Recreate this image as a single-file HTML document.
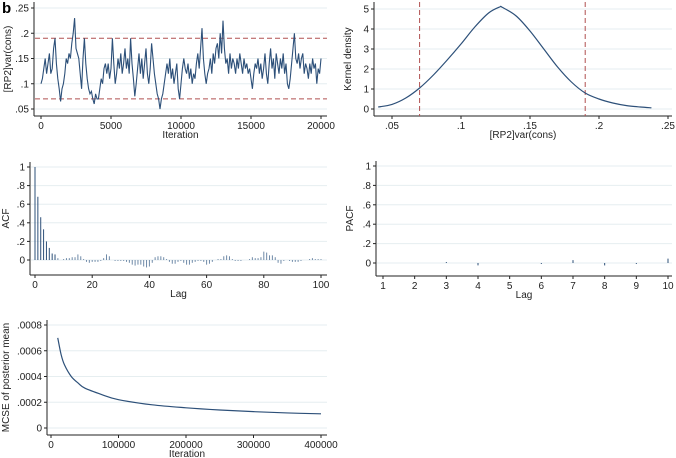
<!DOCTYPE html>
<html><head><meta charset="utf-8"><style>
body{margin:0;background:#fff;}
svg{display:block;font-family:"Liberation Sans",Arial,sans-serif;}
</style></head><body>
<svg id="c" width="676" height="458" viewBox="0 0 676 458" xmlns="http://www.w3.org/2000/svg">
<text x="2" y="13" font-size="15" font-weight="bold">b</text>
</svg>
<script>
const traceVals=[.10,.11,.13,.15,.12,.14,.16,.12,.13,.17,
.19,.14,.11,.09,.065,.09,.10,.12,.15,.14,
.16,.15,.18,.20,.23,.17,.16,.15,.12,.09,
.15,.19,.14,.11,.09,.08,.085,.07,.06,.08,
.07,.07,.09,.11,.10,.13,.14,.12,.14,.11,
.13,.19,.14,.10,.12,.15,.13,.16,.12,.14,
.17,.13,.15,.12,.19,.14,.11,.075,.10,.13,
.16,.12,.15,.11,.14,.17,.12,.10,.13,.18,
.15,.12,.10,.08,.07,.05,.07,.08,.10,.12,
.14,.12,.15,.11,.13,.10,.12,.14,.09,.07,
.10,.13,.15,.13,.12,.14,.11,.13,.10,.12,
.11,.14,.16,.13,.17,.21,.15,.12,.10,.12,
.13,.15,.12,.16,.14,.17,.18,.15,.20,.16,
.225,.17,.14,.15,.12,.16,.13,.15,.14,.12,
.15,.13,.16,.14,.12,.15,.13,.14,.12,.13,
.11,.09,.12,.14,.13,.15,.12,.14,.11,.13,
.16,.12,.10,.14,.17,.13,.15,.11,.16,.14,
.12,.15,.13,.16,.12,.14,.10,.09,.11,.14,
.17,.20,.15,.14,.16,.13,.15,.16,.12,.14,
.13,.11,.14,.12,.15,.13,.14,.10,.13,.12,.15];
const traceStep=100;
const traceBounds=[.07,.19];
const kdX=[.04,.05,.06,.07,.08,.09,.10,.11,.12,.128,.13,.14,.15,.16,.17,.18,.19,.20,.21,.22,.23,.238];
const kdY=[.1,.23,.55,1.05,1.7,2.45,3.25,4.1,4.8,5.1,5.08,4.65,3.9,3.0,2.1,1.35,.8,.5,.3,.17,.1,.06];
const acfVals=[1,.68,.46,.33,.2,.13,.07,.06,.02,0,.01,.02,.02,.03,.03,.06,.04,.01,-.02,-.03,
-.02,-.02,-.02,-.01,.02,.06,.04,0,-.01,-.01,-.01,-.01,-.02,-.03,-.05,-.06,-.05,-.05,-.07,-.08,
-.07,-.03,.03,.04,.04,.03,.01,-.02,-.04,-.04,-.02,-.01,-.03,-.05,-.05,-.03,-.02,-.01,-.01,-.02,
-.05,-.04,-.02,0,.01,.01,.04,.05,.04,.01,-.01,-.01,-.01,0,0,.01,.03,.02,.02,.03,
.09,.08,.05,.05,.03,-.03,-.04,-.01,0,-.01,-.02,-.02,-.02,-.01,0,0,.01,.02,.01,.01,.01];
const pacfLags=[1,2,3,4,5,6,7,8,9,10];
const pacfVals=[0,0,.01,-.025,0,-.01,.03,-.025,-.01,.045];
const mcseIter=[10000,15000,20000,30000,40000,50000,75000,100000,150000,200000,250000,300000,350000,400000];
const mcseVals=[.0007,.00057,.00049,.0004,.00035,.00031,.00026,.00022,.00018,.000157,.00014,.000127,.000117,.00011];

const NS="http://www.w3.org/2000/svg";
const svg=document.getElementById('c');
function mk(tag,attrs,parent){const e=document.createElementNS(NS,tag);for(const k in attrs)e.setAttribute(k,attrs[k]);(parent||svg).appendChild(e);return e;}
function smoothPath(pts){
  let d='M'+pts[0][0]+','+pts[0][1];
  for(let i=0;i<pts.length-1;i++){
    const p0=pts[Math.max(i-1,0)],p1=pts[i],p2=pts[i+1],p3=pts[Math.min(i+2,pts.length-1)];
    const c1=[p1[0]+(p2[0]-p0[0])/6,p1[1]+(p2[1]-p0[1])/6];
    const c2=[p2[0]-(p3[0]-p1[0])/6,p2[1]-(p3[1]-p1[1])/6];
    d+=` C${c1[0]},${c1[1]} ${c2[0]},${c2[1]} ${p2[0]},${p2[1]}`;
  }
  return d;
}
const LINE="#2d5079", GRID="#e6eef0", AX="#222";
function panel(name,o){
  const g=mk('g',{});
  
  
  const sx=v=>o.x0+(v-o.xa)/(o.xb-o.xa)*(o.x1-o.x0);
  const sy=v=>o.y0+(v-o.ya)/(o.yb-o.ya)*(o.y1-o.y0);
  o.yt.forEach((t,i)=>{
    const y=sy(t);
    const gl=mk('line',{x1:o.ax+1,x2:o.right,y1:y,y2:y,stroke:GRID,'stroke-width':1},g);
    
    
    mk('line',{x1:o.ax-3,x2:o.ax,y1:y,y2:y,stroke:AX},g);
    const tx=mk('text',{x:o.ax-5,y:y+3.5,'font-size':10,'text-anchor':'end',fill:'#222'},g);
    tx.textContent=o.ytl[i];
    
    
  });
  o.xt.forEach((t,i)=>{
    const x=sx(t);
    mk('line',{x1:x,x2:x,y1:o.axy,y2:o.axy+3,stroke:AX},g);
    const tx=mk('text',{x:x,y:o.axy+13,'font-size':10,'text-anchor':'middle',fill:'#222'},g);
    tx.textContent=o.xtl[i];
    
    
  });
  const a1=mk('line',{x1:o.ax,x2:o.ax,y1:o.top,y2:o.axy,stroke:AX},g);
  
  
  const a2=mk('line',{x1:o.ax,x2:o.right,y1:o.axy,y2:o.axy,stroke:AX},g);
  
  
  const xl=mk('text',{x:(o.ax+o.right)/2,y:o.axy+22,'font-size':10,'text-anchor':'middle',fill:'#222'},g);
  xl.textContent=o.xlab;
  
  
  const cy=(o.top+o.axy)/2;
  const yl=mk('text',{x:o.ylx,y:cy,'font-size':10,'text-anchor':'middle',fill:'#222',transform:`rotate(-90 ${o.ylx} ${cy})`},g);
  yl.textContent=o.ylab;
  
  
  return {g,sx,sy};
}
// Trace
{const p=panel('trace-plot',{x0:41,x1:321,xa:0,xb:20000,y0:109,y1:8,ya:.05,yb:.25,ax:34,axy:116,top:2,right:327,
 yt:[.05,.1,.15,.2,.25],ytl:['.05','.1','.15','.2','.25'],xt:[0,5000,10000,15000,20000],xtl:['0','5000','10000','15000','20000'],xlab:'Iteration',ylab:'[RP2]var(cons)',ylx:11});
 traceBounds.forEach(b=>{const l=mk('line',{x1:35,x2:327,y1:p.sy(b),y2:p.sy(b),stroke:'#b05050','stroke-dasharray':'5,3'},p.g);
  });
 const pl=mk('polyline',{points:traceVals.map((v,i)=>p.sx(i*traceStep)+','+p.sy(v)).join(' '),fill:'none',stroke:LINE,'stroke-width':1.1},p.g);
 }
// Kernel density
{const p=panel('kernel-density-plot',{x0:392,x1:668,xa:.05,xb:.25,y0:109,y1:9,ya:0,yb:5,ax:374,axy:116,top:2,right:672,
 yt:[0,1,2,3,4,5],ytl:['0','1','2','3','4','5'],xt:[.05,.1,.15,.2,.25],xtl:['.05','.1','.15','.2','.25'],xlab:'[RP2]var(cons)',ylab:'Kernel density',ylx:351});
 traceBounds.forEach(b=>{const l=mk('line',{x1:p.sx(b),x2:p.sx(b),y1:2,y2:116,stroke:'#b05050','stroke-dasharray':'5,3'},p.g);
  });
 const pl=mk('path',{d:smoothPath(kdX.map((v,i)=>[p.sx(v),p.sy(kdY[i])])),fill:'none',stroke:LINE,'stroke-width':1.2},p.g);
 }
// ACF
{const p=panel('acf-plot',{x0:35,x1:321,xa:0,xb:100,y0:260,y1:167,ya:0,yb:1,ax:30,axy:275,top:162,right:327,
 yt:[0,.2,.4,.6,.8,1],ytl:['0','.2','.4','.6','.8','1'],xt:[0,20,40,60,80,100],xtl:['0','20','40','60','80','100'],xlab:'Lag',ylab:'ACF',ylx:9});
 acfVals.forEach((v,i)=>{const l=mk('line',{x1:p.sx(i),x2:p.sx(i),y1:p.sy(0),y2:p.sy(v),stroke:i<8?LINE:'#6f8aa8','stroke-width':1},p.g);
  });}
// PACF
{const p=panel('pacf-plot',{x0:383,x1:668,xa:1,xb:10,y0:263,y1:166,ya:0,yb:1,ax:376,axy:276,top:161,right:672,
 yt:[0,.2,.4,.6,.8,1],ytl:['0','.2','.4','.6','.8','1'],xt:pacfLags,xtl:pacfLags.map(String),xlab:'Lag',ylab:'PACF',ylx:353});
 pacfLags.forEach((lg,i)=>{const l=mk('line',{x1:p.sx(lg),x2:p.sx(lg),y1:p.sy(0),y2:p.sy(pacfVals[i]),stroke:LINE,'stroke-width':1},p.g);
  });}
// MCSE
{const p=panel('mcse-plot',{x0:51,x1:321,xa:0,xb:400000,y0:428,y1:325,ya:0,yb:.0008,ax:47,axy:435,top:320,right:327,
 yt:[0,.0002,.0004,.0006,.0008],ytl:['0','.0002','.0004','.0006','.0008'],xt:[0,100000,200000,300000,400000],xtl:['0','100000','200000','300000','400000'],xlab:'Iteration',ylab:'MCSE of posterior mean',ylx:9});
 const pl=mk('path',{d:smoothPath(mcseIter.map((v,i)=>[p.sx(v),p.sy(mcseVals[i])])),fill:'none',stroke:LINE,'stroke-width':1.2},p.g);
 }
</script>
</body></html>
